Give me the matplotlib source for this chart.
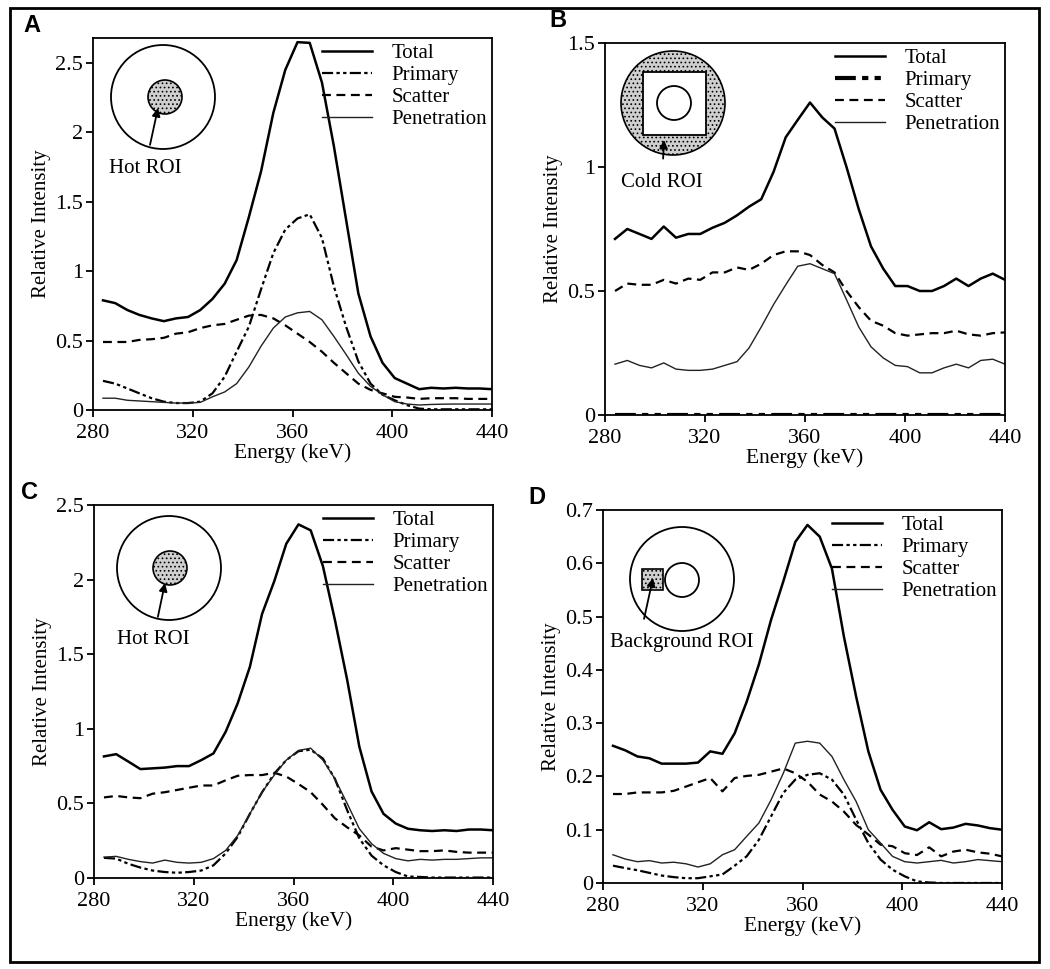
import matplotlib
matplotlib.use("Agg")
import matplotlib.pyplot as plt
from matplotlib.patches import Circle, Rectangle
from matplotlib.ticker import FormatStrFormatter

plt.rcParams['font.family'] = ['Liberation Serif', 'DejaVu Serif']
plt.rcParams['hatch.linewidth'] = 0.7

# Energy grid (keV)
energy = [284.0, 288.9, 293.8, 298.6, 303.5, 308.4, 313.3, 318.1, 323.0, 327.9,
          332.8, 337.6, 342.5, 347.4, 352.3, 357.1, 362.0, 366.9, 371.8, 376.6,
          381.5, 386.4, 391.3, 396.1, 401.0, 405.9, 410.8, 415.6, 420.5, 425.4,
          430.3, 435.1, 440.0]

# Panel A - hot ROI
a_total = [0.79, 0.77, 0.72, 0.685, 0.66, 0.64, 0.66, 0.67, 0.72, 0.80,
           0.91, 1.08, 1.39, 1.72, 2.14, 2.45, 2.65, 2.645, 2.36, 1.90,
           1.37, 0.84, 0.53, 0.34, 0.23, 0.19, 0.15, 0.16, 0.155, 0.16,
           0.155, 0.155, 0.15]
a_primary = [0.21, 0.19, 0.155, 0.12, 0.085, 0.06, 0.05, 0.05, 0.06, 0.12,
             0.24, 0.42, 0.60, 0.87, 1.13, 1.30, 1.38, 1.41, 1.24, 0.89,
             0.60, 0.35, 0.19, 0.11, 0.07, 0.035, 0.01, 0.005, 0.005, 0.005,
             0.005, 0.005, 0.005]
a_scatter = [0.49, 0.49, 0.49, 0.505, 0.51, 0.52, 0.55, 0.56, 0.59, 0.61,
             0.62, 0.65, 0.68, 0.685, 0.66, 0.61, 0.55, 0.49, 0.42, 0.34,
             0.265, 0.19, 0.145, 0.12, 0.095, 0.09, 0.08, 0.085, 0.085, 0.085,
             0.08, 0.08, 0.08]
a_penetration = [0.085, 0.085, 0.07, 0.065, 0.06, 0.055, 0.05, 0.05, 0.055, 0.095,
                 0.13, 0.19, 0.31, 0.46, 0.59, 0.67, 0.70, 0.71, 0.65, 0.53,
                 0.40, 0.265, 0.17, 0.11, 0.06, 0.043, 0.036, 0.04, 0.042, 0.043,
                 0.043, 0.043, 0.043]

# Panel B - cold ROI
b_total = [0.71, 0.75, 0.73, 0.71, 0.76, 0.715, 0.73, 0.73, 0.755, 0.775,
           0.805, 0.84, 0.87, 0.98, 1.12, 1.19, 1.26, 1.20, 1.155, 1.00,
           0.83, 0.68, 0.59, 0.52, 0.52, 0.50, 0.50, 0.52, 0.55, 0.52,
           0.55, 0.57, 0.545]
b_primary = [0.0, 0.0, 0.0, 0.0, 0.0, 0.0, 0.0, 0.0, 0.0, 0.0,
             0.0, 0.0, 0.0, 0.0, 0.0, 0.0, 0.0, 0.0, 0.0, 0.0,
             0.0, 0.0, 0.0, 0.0, 0.0, 0.0, 0.0, 0.0, 0.0, 0.0,
             0.0, 0.0, 0.0]
b_scatter = [0.50, 0.53, 0.525, 0.525, 0.545, 0.53, 0.55, 0.545, 0.575, 0.575,
             0.595, 0.585, 0.61, 0.645, 0.66, 0.66, 0.645, 0.605, 0.575, 0.50,
             0.435, 0.38, 0.36, 0.33, 0.32, 0.325, 0.33, 0.33, 0.34, 0.325,
             0.32, 0.33, 0.333]
b_penetration = [0.205, 0.22, 0.20, 0.19, 0.21, 0.185, 0.18, 0.18, 0.185, 0.20,
                 0.215, 0.27, 0.355, 0.445, 0.525, 0.60, 0.61, 0.59, 0.57, 0.465,
                 0.355, 0.275, 0.23, 0.20, 0.195, 0.17, 0.17, 0.19, 0.205, 0.19,
                 0.22, 0.225, 0.205]

# Panel C - hot ROI
c_total = [0.815, 0.83, 0.78, 0.73, 0.735, 0.74, 0.75, 0.75, 0.79, 0.835,
           0.98, 1.17, 1.415, 1.77, 1.99, 2.24, 2.37, 2.33, 2.09, 1.73,
           1.33, 0.88, 0.58, 0.43, 0.365, 0.33, 0.32, 0.315, 0.32, 0.315,
           0.325, 0.325, 0.32]
c_primary = [0.135, 0.13, 0.095, 0.07, 0.05, 0.04, 0.035, 0.04, 0.05, 0.085,
             0.165, 0.275, 0.43, 0.575, 0.70, 0.79, 0.85, 0.86, 0.80, 0.665,
             0.455, 0.265, 0.15, 0.085, 0.04, 0.01, 0.007, 0.003, 0.003, 0.003,
             0.003, 0.003, 0.003]
c_scatter = [0.54, 0.55, 0.54, 0.535, 0.565, 0.575, 0.59, 0.605, 0.62, 0.62,
             0.655, 0.685, 0.69, 0.69, 0.705, 0.68, 0.63, 0.575, 0.49, 0.40,
             0.34, 0.285, 0.21, 0.185, 0.20, 0.19, 0.18, 0.18, 0.185, 0.175,
             0.17, 0.17, 0.17]
c_penetration = [0.14, 0.145, 0.125, 0.11, 0.10, 0.12, 0.105, 0.10, 0.105, 0.13,
                 0.185, 0.285, 0.43, 0.575, 0.69, 0.79, 0.855, 0.87, 0.79, 0.665,
                 0.50, 0.33, 0.23, 0.165, 0.13, 0.115, 0.125, 0.12, 0.125, 0.125,
                 0.13, 0.135, 0.135]

# Panel D - background ROI
d_total = [0.2575, 0.249, 0.2375, 0.234, 0.224, 0.224, 0.224, 0.226, 0.247, 0.2425,
           0.281, 0.34, 0.41, 0.494, 0.566, 0.64, 0.672, 0.65, 0.59, 0.4625,
           0.35, 0.247, 0.175, 0.1375, 0.106, 0.099, 0.114, 0.101, 0.104, 0.111,
           0.108, 0.103, 0.10]
d_primary = [0.0325, 0.028, 0.024, 0.019, 0.014, 0.011, 0.009, 0.009, 0.0125, 0.016,
             0.0325, 0.05, 0.081, 0.125, 0.169, 0.194, 0.203, 0.206, 0.194, 0.166,
             0.119, 0.075, 0.044, 0.025, 0.0125, 0.003, 0.001, 0.0, 0.0, 0.0,
             0.0, 0.0, 0.0]
d_scatter = [0.167, 0.167, 0.17, 0.17, 0.17, 0.173, 0.181, 0.189, 0.197, 0.172,
             0.197, 0.201, 0.203, 0.209, 0.215, 0.206, 0.19, 0.166, 0.153, 0.134,
             0.109, 0.091, 0.072, 0.069, 0.056, 0.0525, 0.067, 0.05, 0.059, 0.0625,
             0.0575, 0.055, 0.05]
d_penetration = [0.053, 0.045, 0.04, 0.042, 0.0375, 0.039, 0.036, 0.03, 0.036, 0.053,
                 0.0625, 0.0875, 0.1125, 0.156, 0.206, 0.2625, 0.266, 0.2625, 0.2375, 0.194,
                 0.153, 0.10, 0.075, 0.05, 0.04, 0.0375, 0.04, 0.0425, 0.0375, 0.04,
                 0.044, 0.042, 0.04]

x_ticks = [280, 320, 360, 400, 440]
series_labels = ["Total", "Primary", "Scatter", "Penetration"]

W, H = 1050, 969
fig = plt.figure(figsize=(W / 100, H / 100), dpi=100)


def px_axes(x0, y0, x1, y1):
    # axes rectangle given in pixel coords (top-left origin)
    return fig.add_axes([x0 / W, 1 - y1 / H, (x1 - x0) / W, (y1 - y0) / H])


panels = [
    (px_axes(93, 38, 492, 410), (a_total, a_primary, a_scatter, a_penetration), 2.68, [0, 0.5, 1, 1.5, 2, 2.5], 1.6),
    (px_axes(605, 43, 1005, 415), (b_total, b_primary, b_scatter, b_penetration), 1.5, [0, 0.5, 1, 1.5], 3.0),
    (px_axes(94, 505, 493, 878), (c_total, c_primary, c_scatter, c_penetration), 2.5, [0, 0.5, 1, 1.5, 2, 2.5], 1.6),
    (px_axes(603, 510, 1002, 883), (d_total, d_primary, d_scatter, d_penetration), 0.7, [0, 0.1, 0.2, 0.3, 0.4, 0.5, 0.6, 0.7], 1.6),
]

for ax, (tot, prim, scat, pen), ytop, yt, prim_lw in panels:
    ax.plot(energy, tot, color="black", lw=1.8, label=series_labels[0])
    ax.plot(energy, prim, color="black", lw=prim_lw,
            linestyle=(0, (5, 1.5, 1.5, 1.5, 1.5, 1.5)), label=series_labels[1])
    ax.plot(energy, scat, color="black", lw=1.6, linestyle=(0, (4, 2.5)), label=series_labels[2])
    ax.plot(energy, pen, color="#222222", lw=1.0, label=series_labels[3])
    ax.set_xlim(280, 440)
    ax.set_ylim(0, ytop)
    ax.set_xticks(x_ticks)
    ax.set_yticks(yt)
    ax.yaxis.set_major_formatter(FormatStrFormatter('%g'))
    ax.tick_params(direction="out", length=5, width=1.3, labelsize=16,
                   top=False, right=False)
    ax.tick_params(axis="x", pad=5)
    ax.tick_params(axis="y", pad=2)
    for s in ax.spines.values():
        s.set_linewidth(1.3)
    ax.set_xlabel("Energy (keV)", fontsize=15.5, labelpad=0.5)
    ax.set_ylabel("Relative Intensity", fontsize=15, labelpad=3)
    ax.legend(loc="upper right", bbox_to_anchor=(1.0, 1.0), frameon=False,
              fontsize=15, handlelength=2.4, labelspacing=0.12,
              handletextpad=0.9, borderpad=0.15, borderaxespad=0.1)

# overlay in pixel coordinates for frame, panel letters and phantom insets
ov = fig.add_axes([0, 0, 1, 1])
ov.set_xlim(0, W)
ov.set_ylim(H, 0)
ov.axis("off")
ov.patch.set_alpha(0)

ov.add_patch(Rectangle((10, 8), 1029, 954, fill=False, lw=2, color="black"))

for letter, (lx, ly) in zip("ABCD", [(32, 25), (558, 20), (30, 492), (537, 497)]):
    ov.text(lx, ly, letter, fontsize=17, fontweight="bold",
            family=["Liberation Sans", "DejaVu Sans"], ha="center", va="center")

stip = dict(facecolor="#cfcfcf", edgecolor="black", hatch="....", lw=1.2)

# A inset
ov.add_patch(Circle((163, 97), 52, fill=False, lw=1.3, color="black"))
ov.add_patch(Circle((165, 97), 17, **stip))
ov.annotate("Hot ROI", xy=(158, 108), xytext=(145, 168), fontsize=15,
            ha="center", va="center",
            arrowprops=dict(arrowstyle="-|>", color="black", lw=1.3,
                            shrinkA=8, shrinkB=0, mutation_scale=12))

# B inset
ov.add_patch(Circle((673, 103), 52, **stip))
ov.add_patch(Rectangle((643, 72), 63, 63, facecolor="white", edgecolor="black", lw=1.3))
ov.add_patch(Circle((674, 103), 17, facecolor="white", edgecolor="black", lw=1.3))
ov.annotate("Cold ROI", xy=(664, 140), xytext=(662, 182), fontsize=15,
            ha="center", va="center",
            arrowprops=dict(arrowstyle="-|>", color="black", lw=1.3,
                            shrinkA=8, shrinkB=0, mutation_scale=12))

# C inset
ov.add_patch(Circle((169, 568), 52, fill=False, lw=1.3, color="black"))
ov.add_patch(Circle((170, 568), 17, **stip))
ov.annotate("Hot ROI", xy=(165, 583), xytext=(153, 640), fontsize=15,
            ha="center", va="center",
            arrowprops=dict(arrowstyle="-|>", color="black", lw=1.3,
                            shrinkA=8, shrinkB=0, mutation_scale=12))

# D inset
ov.add_patch(Circle((682, 579), 52, fill=False, lw=1.3, color="black"))
ov.add_patch(Circle((682, 580), 17, facecolor="white", edgecolor="black", lw=1.3))
ov.add_patch(Rectangle((642, 569), 21, 21, **stip))
ov.annotate("Background ROI", xy=(653, 578), xytext=(682, 642), fontsize=15,
            ha="center", va="center",
            arrowprops=dict(arrowstyle="-|>", color="black", lw=1.3,
                            shrinkA=8, shrinkB=0, mutation_scale=12,
                            relpos=(0.2, 0.5)))

fig.savefig("out.png", dpi=100)
